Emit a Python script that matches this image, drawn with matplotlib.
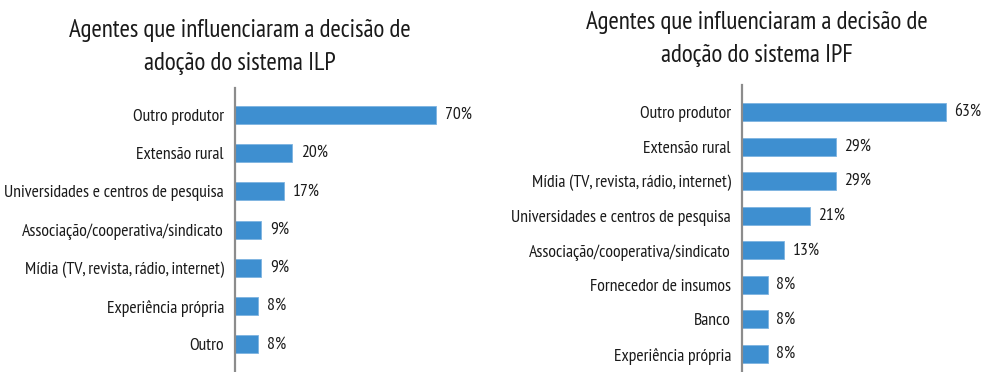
import matplotlib
matplotlib.use("Agg")
import matplotlib.pyplot as plt

plt.rcParams['font.family'] = ['PT Sans Narrow', 'Liberation Sans Narrow', 'DejaVu Sans']

ilp_labels = ["Outro produtor", "Extensão rural", "Universidades e centros de pesquisa",
              "Associação/cooperativa/sindicato", "Mídia (TV, revista, rádio, internet)",
              "Experiência própria", "Outro"]
ilp_values = [70, 20, 17, 9, 9, 8, 8]

ipf_labels = ["Outro produtor", "Extensão rural", "Mídia (TV, revista, rádio, internet)",
              "Universidades e centros de pesquisa", "Associação/cooperativa/sindicato",
              "Fornecedor de insumos", "Banco", "Experiência própria"]
ipf_values = [63, 29, 29, 21, 13, 8, 8, 8]

ilp_title = "Agentes que influenciaram a decisão de\nadoção do sistema ILP"
ipf_title = "Agentes que influenciaram a decisão de\nadoção do sistema IPF"

W, H = 981, 372
BAR = "#3E8FD0"
AXIS = "#8C8C8C"
TXT = "#1a1a1a"

fig = plt.figure(figsize=(W / 100, H / 100), dpi=100)


def panel(rect, labels, values, xmax, ylim, height):
    ax = fig.add_axes(rect)
    y = list(range(len(values)))
    ax.barh(y, values, height=height, color=BAR, edgecolor="#7DB3E0", linewidth=0.6)
    ax.set_xlim(0, xmax)
    ax.set_ylim(*ylim)
    ax.set_yticks(y)
    ax.set_yticklabels(labels, fontsize=12.7, color=TXT)
    ax.tick_params(axis="y", length=0, pad=8)
    ax.set_xticks([])
    for s in ("top", "right", "bottom"):
        ax.spines[s].set_visible(False)
    ax.spines["left"].set_color(AXIS)
    ax.spines["left"].set_linewidth(1.6)
    for yi, v in zip(y, values):
        ax.text(v + xmax * 0.035, yi, f"{v}%", va="center", ha="left",
                fontsize=12.7, color=TXT)
    return ax


# left panel: axis at x=235px, 2.87 px per percent, spans y 88..372
panel([235 / W, 0, 255 / W, (372 - 88) / H], ilp_labels, ilp_values,
      255 / 2.87, (6.72, -0.7), 0.47)
# right panel: axis at x=742px, 3.24 px per percent, spans y 85..372
panel([742 / W, 0, 239 / W, (372 - 85) / H], ipf_labels, ipf_values,
      239 / 3.24, (7.52, -0.78), 0.52)

fig.text(240 / W, 1 - 47 / H, ilp_title, ha="center", va="center",
         fontsize=18, linespacing=1.6, color=TXT)
fig.text(757 / W, 1 - 39 / H, ipf_title, ha="center", va="center",
         fontsize=18, linespacing=1.6, color=TXT)

fig.savefig("out.png", dpi=100, facecolor="white")
